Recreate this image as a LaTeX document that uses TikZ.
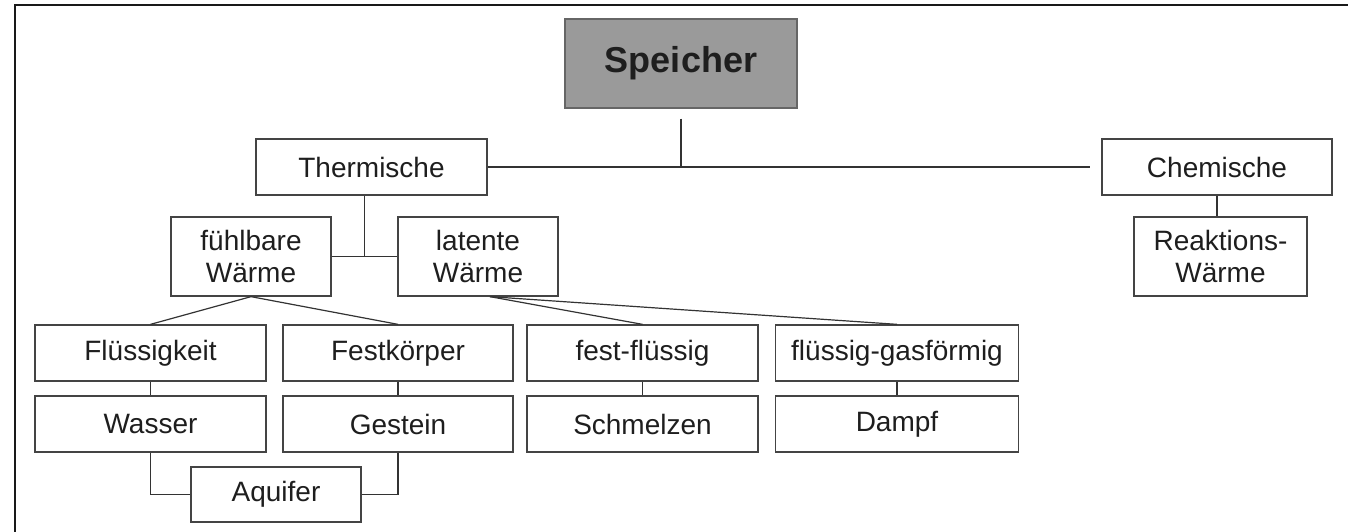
\documentclass[tikz,border=0pt]{standalone}
\usepackage{fontspec}
\setmainfont{Liberation Sans}
\usetikzlibrary{calc}
\definecolor{linec}{HTML}{333333}
\definecolor{boxc}{HTML}{444444}
\definecolor{spfill}{HTML}{9A9A9A}
\definecolor{txt}{HTML}{1E1E1E}
\tikzset{
  box/.style={draw=boxc, line width=1.3pt, rectangle, inner sep=0pt, align=center,
    text=txt, font=\fontsize{28}{32}\selectfont},
  wide/.style={box, minimum width=231pt, minimum height=56pt},
  two/.style={box, minimum width=160pt, minimum height=79pt},
  conn/.style={draw=linec, line width=1.2pt},
}
\begin{document}
\begin{tikzpicture}[x=1pt,y=-1pt]
\useasboundingbox (0,0) rectangle (1348,532);
\draw[line width=2.5pt, black!90] (15,533) -- (15,5) -- (1349,5);

\node[box, minimum width=232pt, minimum height=89pt, fill=spfill, draw=black!60,
  font=\fontsize{36}{40}\selectfont\bfseries] (sp) at (681,63.5) {Speicher};
\node[wide] (th) at (371.5,167) {Thermische};
\node[wide, minimum width=230pt] (ch) at (1217,167) {Chemische};
\node[two] (fw) at (251,256.5) {fühlbare\\Wärme};
\node[two] (lw) at (478,256.5) {latente\\Wärme};
\node[two, minimum width=173pt] (rw) at (1220.5,256.5) {Reaktions-\\Wärme};
\node[wide] (fl) at (150.5,353) {Flüssigkeit};
\node[wide, minimum width=230pt] (fk) at (398,353) {Festkörper};
\node[wide] (ff) at (642.5,353) {fest-flüssig};
\node[wide, minimum width=243pt] (fg) at (897,353) {flüssig-gasförmig};
\node[wide] (wa) at (150.5,424) {Wasser};
\node[wide, minimum width=230pt] (ge) at (398,424) {Gestein};
\node[wide] (sc) at (642.5,424) {Schmelzen};
\node[wide, minimum width=243pt] (da) at (897,424) {Dampf};
\node[box, minimum width=170pt, minimum height=55pt] (aq) at (276,494.5) {Aquifer};

\coordinate (j) at ($(fw.east)!0.5!(lw.west)$);
\draw[conn] ([yshift=-10pt]sp.south) -- (sp.south |- th.east);
\draw[conn] (th.east) -- ([xshift=-11pt]ch.west);
\draw[conn] (fw.east) -- (lw.west);
\draw[conn] (j) -- (j |- th.south);
\draw[conn] (fw.south) -- (fl.north);
\draw[conn] (fw.south) -- (fk.north);
\draw[conn] ([xshift=12pt]lw.south) -- (ff.north);
\draw[conn] ([xshift=12pt]lw.south) -- (fg.north);
\draw[conn] (fl.south) -- (wa.north);
\draw[conn] (fk.south) -- (ge.north);
\draw[conn] (ff.south) -- (sc.north);
\draw[conn] (fg.south) -- (da.north);
\draw[conn] (wa.south) -- (wa.south |- aq.west) -- (aq.west);
\draw[conn] (ge.south) -- (ge.south |- aq.east) -- (aq.east);
\draw[conn] (ch.south) -- (ch.south |- rw.north);
\end{tikzpicture}
\end{document}
